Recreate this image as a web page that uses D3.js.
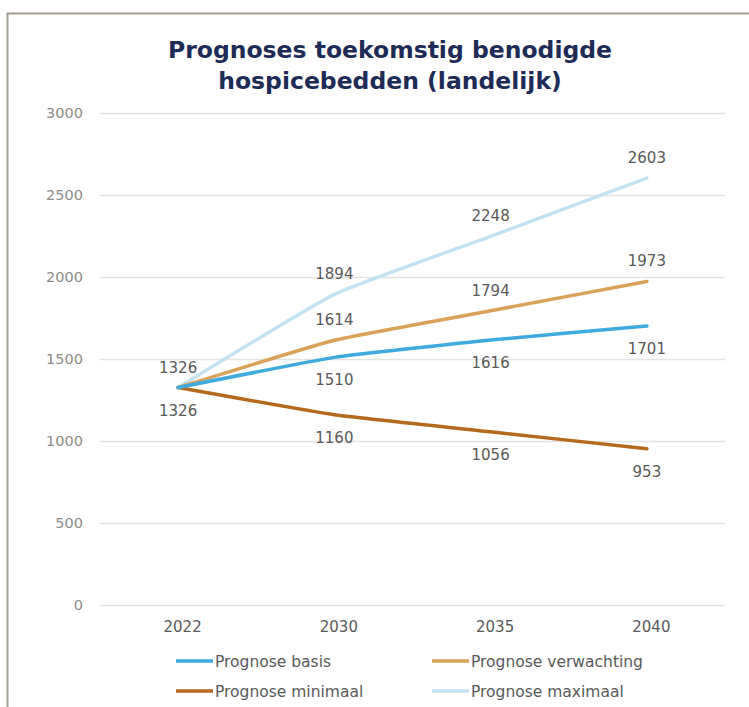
<!DOCTYPE html>
<html>
<head>
<meta charset="utf-8">
<script src="https://cdn.jsdelivr.net/npm/d3@7"></script>
<style>
  html, body { margin: 0; padding: 0; background: #fff; }
  svg { display: block; }
</style>
</head>
<body>
<svg id="chart" width="749" height="707"></svg>
<script>
// Years on the x axis
const years = ["2022", "2030", "2035", "2040"];

// Forecast series (number of hospice beds)
const basis = [1326, 1510, 1616, 1701];
const verwachting = [1326, 1614, 1794, 1973];
const minimaal = [1326, 1160, 1056, 953];
const maximaal = [1326, 1894, 2248, 2603];

// Y axis ticks
const yTicks = [0, 500, 1000, 1500, 2000, 2500, 3000];

const series = [
  { name: "Prognose maximaal", values: maximaal, color: "#c3e2f1", labelPos: "above" },
  { name: "Prognose minimaal", values: minimaal, color: "#b4691f", labelPos: "below" },
  { name: "Prognose verwachting", values: verwachting, color: "#d9a15a", labelPos: "above" },
  { name: "Prognose basis", values: basis, color: "#3eaade", labelPos: "below" }
];

const legendOrder = ["Prognose basis", "Prognose verwachting", "Prognose minimaal", "Prognose maximaal"];

const svg = d3.select("#chart");
const font = "'DejaVu Sans', Verdana, sans-serif";
const textGrey = "#595959";

// Frame
svg.append("path")
  .attr("d", "M7.5,707 L7.5,13.5 L749,13.5")
  .attr("fill", "none")
  .attr("stroke", "#a39c92")
  .attr("stroke-width", 2);

// Title
const title = svg.append("text")
  .attr("text-anchor", "middle")
  .attr("font-family", font)
  .attr("font-weight", "bold")
  .attr("font-size", 23.5)
  .attr("fill", "#1e2b57");
title.append("tspan").attr("x", 390).attr("y", 58).text("Prognoses toekomstig benodigde");
title.append("tspan").attr("x", 390).attr("y", 89).text("hospicebedden (landelijk)");

const x = d3.scalePoint().domain(years).range([100, 725]).padding(0.5);
const y = d3.scaleLinear().domain([0, 3000]).range([605, 113]);

// Gridlines and y labels
const yAxis = d3.axisLeft(y).tickValues(yTicks).tickSize(-625).tickPadding(17).tickFormat(d3.format("d"));
const gy = svg.append("g").attr("transform", "translate(100,0)").call(yAxis);
gy.select(".domain").remove();
gy.selectAll(".tick line").attr("stroke", "#e3e3e3").attr("stroke-width", 1.3);
gy.selectAll(".tick text")
  .attr("font-family", font).attr("font-size", 14.5).attr("fill", "#8c8c8c");

// X labels
const xAxis = d3.axisBottom(x).tickSize(0).tickPadding(16);
const gx = svg.append("g").attr("transform", "translate(4,605)").call(xAxis);
gx.select(".domain").remove();
gx.selectAll(".tick text")
  .attr("font-family", font).attr("font-size", 15).attr("fill", textGrey);

// Lines
const line = d3.line()
  .x((d, i) => x(years[i]))
  .y(d => y(d))
  .curve(d3.curveCardinal.tension(0.6));

svg.append("g").selectAll("path")
  .data(series)
  .join("path")
  .attr("d", d => line(d.values))
  .attr("fill", "none")
  .attr("stroke", d => d.color)
  .attr("stroke-width", 3.5)
  .attr("stroke-linecap", "round");

// Data labels (2022 shared start value shown once above, once below)
const labels = [];
series.forEach(s => {
  s.values.forEach((v, i) => {
    if (i === 0 && (s.name === "Prognose basis" || s.name === "Prognose verwachting")) return;
    labels.push({ v, i, pos: s.labelPos });
  });
});
svg.append("g").selectAll("text")
  .data(labels)
  .join("text")
  .attr("x", d => x(years[d.i]))
  .attr("y", d => y(d.v) + (d.pos === "above" ? -15 : 28))
  .attr("text-anchor", "middle")
  .attr("font-family", font)
  .attr("font-size", 15)
  .attr("fill", textGrey)
  .text(d => d.v);

// Legend
const legendPos = [[176, 661], [432, 661], [176, 691], [432, 691]];
const legend = svg.append("g").selectAll("g")
  .data(legendOrder.map((n, i) => ({ s: series.find(s => s.name === n), p: legendPos[i] })))
  .join("g")
  .attr("transform", d => `translate(${d.p[0]},${d.p[1]})`);
legend.append("line")
  .attr("x1", 0).attr("x2", 37).attr("y1", 0).attr("y2", 0)
  .attr("stroke", d => d.s.color).attr("stroke-width", 3.5);
legend.append("text")
  .attr("x", 39).attr("y", 5.5)
  .attr("font-family", font).attr("font-size", 15.5).attr("fill", textGrey)
  .text(d => d.s.name);
</script>
</body>
</html>
